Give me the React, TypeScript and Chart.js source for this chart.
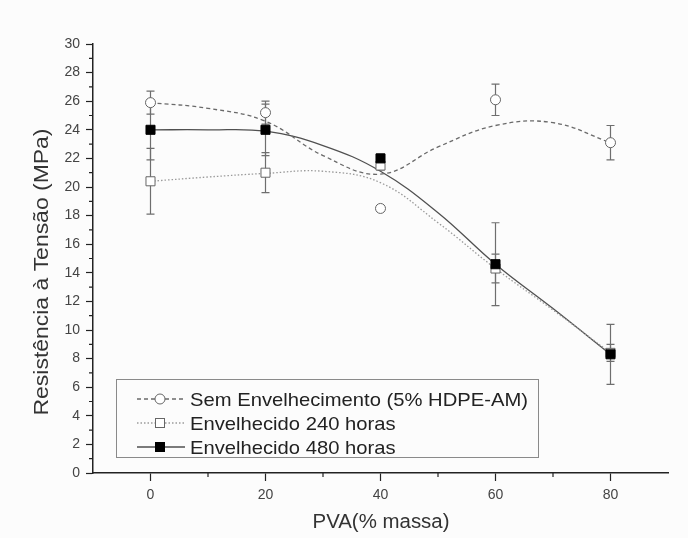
import React, { useEffect, useRef } from "react";
import { Chart, registerables } from "chart.js";

Chart.register(...registerables);

// ---- data ----
const pva = [0, 20, 40, 60, 80];
const semEnv = [25.9, 25.2, 18.5, 26.1, 23.1];
const semEnvErr = [0.8, 0.8, 0.2, 1.1, 1.2];
const env240 = [20.4, 21.0, 21.5, 14.3, 8.4];
const env240Err = [2.3, 1.4, 0.3, 1.0, 0.6];
const env480 = [24.0, 24.0, 22.0, 14.6, 8.3];
const env480Err = [2.1, 1.8, 0.3, 2.9, 2.1];

// fitted curves, read at these x positions
const fitX = [0, 10, 20, 30, 40, 50, 60, 70, 80];
const semEnvFit = [25.9, 25.5, 24.6, 22.2, 20.9, 22.8, 24.3, 24.5, 23.1];
const env240Fit = [20.4, 20.7, 20.95, 21.1, 20.3, 17.5, 14.3, 11.4, 8.4];
const env480Fit = [24.0, 24.0, 23.9, 22.9, 21.1, 18.2, 14.6, 11.5, 8.3];

const legendLabels = [
  "Sem Envelhecimento (5% HDPE-AM)",
  "Envelhecido 240 horas",
  "Envelhecido 480 horas",
];
const xTitle = "PVA(% massa)";
const yTitle = "Resistência à Tensão (MPa)";

const FONT = "'Liberation Sans', Arial, sans-serif";

const pts = (xs: number[], ys: number[]) => xs.map((x, i) => ({ x, y: ys[i] }));

const styles = [
  { line: "#6a6a6a", dash: [4, 3], width: 1.3, marker: "circle", fill: "#ffffff", border: "#666", r: 5 },
  { line: "#9a9a9a", dash: [1.5, 2], width: 1.3, marker: "rect", fill: "#ffffff", border: "#666", r: 6.4 },
  { line: "#505050", dash: [], width: 1.3, marker: "rect", fill: "#000000", border: "#000", r: 6.4 },
];

// draw text fitted to a given length (the reference font is wide)
function fitText(ctx: CanvasRenderingContext2D, text: string, size: number, target: number) {
  ctx.font = `${size}px ${FONT}`;
  const w = ctx.measureText(text).width;
  const k = target / w;
  ctx.save();
  ctx.scale(k, 1);
  ctx.fillText(text, 0, 0);
  ctx.restore();
}

const errorBarPlugin = {
  id: "errorBars",
  beforeDatasetsDraw(chart: any) {
    const { ctx, scales } = chart;
    const x = scales.x, y = scales.y;
    const sets = [
      { v: semEnv, e: semEnvErr },
      { v: env240, e: env240Err },
      { v: env480, e: env480Err },
    ];
    ctx.save();
    ctx.strokeStyle = "#6e6e6e";
    ctx.lineWidth = 1.2;
    sets.forEach((s) => {
      s.v.forEach((val, i) => {
        const px = x.getPixelForValue(pva[i]);
        const top = y.getPixelForValue(val + s.e[i]);
        const bot = y.getPixelForValue(val - s.e[i]);
        ctx.beginPath();
        ctx.moveTo(px, top);
        ctx.lineTo(px, bot);
        ctx.moveTo(px - 4, top);
        ctx.lineTo(px + 4, top);
        ctx.moveTo(px - 4, bot);
        ctx.lineTo(px + 4, bot);
        ctx.stroke();
      });
    });
    ctx.restore();
  },
};

const minorTickPlugin = {
  id: "minorTicks",
  afterDraw(chart: any) {
    const { ctx, scales } = chart;
    const x = scales.x, y = scales.y;
    ctx.save();
    ctx.strokeStyle = "#222";
    ctx.lineWidth = 1.2;
    ctx.beginPath();
    for (let v = 1; v < 30; v += 2) {
      const py = y.getPixelForValue(v);
      ctx.moveTo(chart.chartArea.left - 4, py);
      ctx.lineTo(chart.chartArea.left, py);
    }
    [10, 30, 50, 70].forEach((v) => {
      const px = x.getPixelForValue(v);
      ctx.moveTo(px, chart.chartArea.bottom);
      ctx.lineTo(px, chart.chartArea.bottom + 4);
    });
    ctx.stroke();
    ctx.restore();
  },
};

const titlePlugin = {
  id: "axisTitles",
  afterDraw(chart: any) {
    const { ctx, chartArea } = chart;
    ctx.save();
    ctx.fillStyle = "#333";
    ctx.textBaseline = "alphabetic";
    ctx.textAlign = "center";
    // x title
    ctx.save();
    ctx.translate((chartArea.left + chartArea.right) / 2 + 0.5, 528);
    fitText(ctx, xTitle, 20, 137);
    ctx.restore();
    // y title
    ctx.save();
    ctx.translate(48, 272);
    ctx.rotate(-Math.PI / 2);
    fitText(ctx, yTitle, 20, 287);
    ctx.restore();
    ctx.restore();
  },
};

const legendPlugin = {
  id: "boxLegend",
  afterDraw(chart: any) {
    const { ctx } = chart;
    ctx.save();
    ctx.fillStyle = "#fcfcfc";
    ctx.fillRect(116, 379, 422, 78);
    ctx.strokeStyle = "#8a8a8a";
    ctx.lineWidth = 1;
    ctx.strokeRect(116.5, 379.5, 422, 78);
    const rows = [399, 423, 447];
    rows.forEach((ry, i) => {
      const s = styles[i];
      ctx.strokeStyle = s.line;
      ctx.lineWidth = s.width;
      ctx.setLineDash(s.dash);
      ctx.beginPath();
      ctx.moveTo(137, ry);
      ctx.lineTo(185, ry);
      ctx.stroke();
      ctx.setLineDash([]);
      ctx.fillStyle = s.fill;
      ctx.strokeStyle = s.border;
      ctx.lineWidth = 1;
      if (s.marker === "circle") {
        ctx.beginPath();
        ctx.arc(160, ry, 5, 0, Math.PI * 2);
        ctx.fill();
        ctx.stroke();
      } else {
        ctx.fillRect(155.5, ry - 4.5, 9, 9);
        ctx.strokeRect(155.5, ry - 4.5, 9, 9);
      }
      ctx.fillStyle = "#222";
      ctx.textBaseline = "alphabetic";
      ctx.textAlign = "left";
      ctx.save();
      ctx.translate(190, ry + 7);
      ctx.font = `19px ${FONT}`;
      const full = ctx.measureText(legendLabels[0]).width;
      ctx.scale(338 / full, 1);
      ctx.fillText(legendLabels[i], 0, 0);
      ctx.restore();
    });
    ctx.restore();
  },
};

const bgPlugin = {
  id: "bg",
  beforeDraw(chart: any) {
    const { ctx, width, height } = chart;
    ctx.save();
    ctx.fillStyle = "#fcfcfc";
    ctx.fillRect(0, 0, width, height);
    ctx.restore();
  },
};

export default function App() {
  const ref = useRef<HTMLCanvasElement | null>(null);

  useEffect(() => {
    document.body.style.margin = "0";
    document.body.style.background = "#fcfcfc";
    if (!ref.current) return;

    const fitSets = [semEnvFit, env240Fit, env480Fit].map((f, i) => ({
      label: legendLabels[i] + " fit",
      data: pts(fitX, f),
      borderColor: styles[i].line,
      borderDash: styles[i].dash,
      borderWidth: styles[i].width,
      pointRadius: 0,
      tension: 0.4,
      cubicInterpolationMode: "default" as const,
      fill: false,
      order: 3,
    }));
    const pointOrder = [1, 2, 0];
    const pointSets = [semEnv, env240, env480].map((v, i) => ({
      label: legendLabels[i],
      data: pts(pva, v),
      showLine: false,
      pointStyle: styles[i].marker,
      pointRadius: styles[i].r,
      pointBackgroundColor: styles[i].fill,
      pointBorderColor: styles[i].border,
      pointBorderWidth: 1,
      order: pointOrder[i],
    }));

    const chart = new Chart(ref.current, {
      type: "line",
      data: { datasets: [...fitSets, ...pointSets] as any },
      options: {
        animation: false,
        responsive: false,
        events: [],
        layout: { padding: { top: 44, right: 20, left: 0, bottom: 0 } },
        plugins: { legend: { display: false }, tooltip: { enabled: false } },
        scales: {
          x: {
            type: "linear",
            min: -10,
            max: 90,
            afterFit: (s: any) => { s.height = 65; },
            border: { display: true, color: "#222", width: 1.5 },
            grid: {
              drawOnChartArea: false,
              drawTicks: true,
              tickLength: 8,
              tickWidth: 1.2,
              tickColor: (c: any) => (c.tick && c.tick.value % 20 === 0 && c.tick.value >= 0 && c.tick.value <= 80 ? "#222" : "rgba(0,0,0,0)"),
            },
            ticks: {
              stepSize: 10,
              padding: 6,
              color: "#444",
              font: { family: FONT, size: 14 },
              callback: (v: any) => (v % 20 === 0 && v >= 0 && v <= 80 ? String(v) : ""),
              maxRotation: 0,
              autoSkip: false,
            },
            title: { display: false },
          },
          y: {
            type: "linear",
            min: 0,
            max: 30,
            afterFit: (s: any) => { s.width = 93; },
            border: { display: true, color: "#222", width: 1.5 },
            grid: {
              drawOnChartArea: false,
              drawTicks: true,
              tickLength: 7,
              tickWidth: 1.2,
              tickColor: "#222",
            },
            ticks: {
              stepSize: 2,
              padding: 6,
              color: "#444",
              font: { family: FONT, size: 14 },
              autoSkip: false,
            },
            title: { display: false },
          },
        },
      },
      plugins: [bgPlugin, errorBarPlugin, minorTickPlugin, legendPlugin, titlePlugin],
    });
    return () => chart.destroy();
  }, []);

  return (
    <div style={{ width: 688, height: 538 }}>
      <canvas ref={ref} width={688} height={538} style={{ display: "block" }} />
    </div>
  );
}
